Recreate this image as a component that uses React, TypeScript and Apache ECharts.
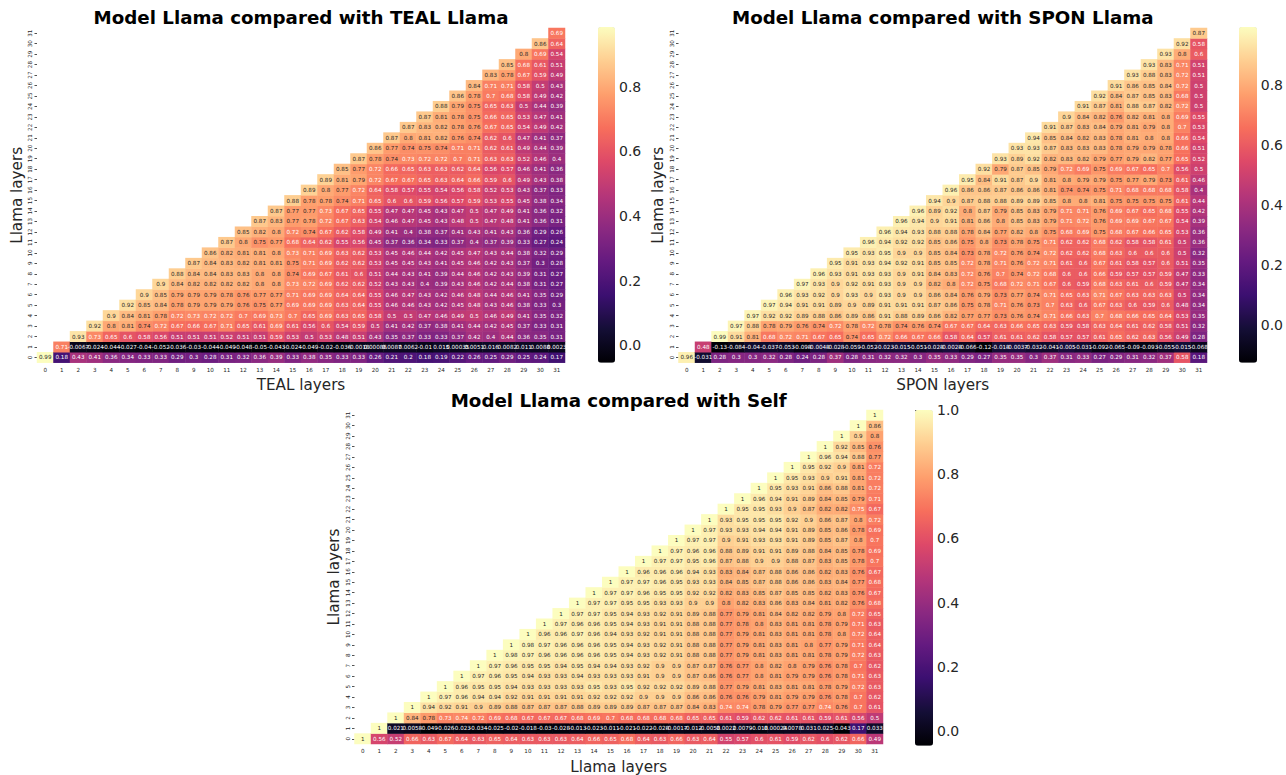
import React, { useEffect, useRef } from "react";
import * as echarts from "echarts";

const layerLabels = Array.from({ length: 32 }, (_, i) => String(i));

const tealRows: number[][] = [
  [0.99,0.18,0.43,0.41,0.36,0.34,0.33,0.33,0.29,0.3,0.28,0.31,0.32,0.36,0.39,0.33,0.38,0.35,0.33,0.33,0.26,0.21,0.2,0.18,0.19,0.22,0.26,0.25,0.29,0.25,0.24,0.17],
  [0.71,-0.0067,-0.024,-0.044,-0.027,-0.04,-0.052,-0.036,-0.03,-0.044,-0.049,-0.048,-0.05,-0.043,-0.024,-0.049,-0.02,-0.036,-0.0018,0.00086,0.0087,0.0062,-0.01,0.015,0.00035,0.0051,0.016,0.0082,0.011,0.0088,0.0023],
  [0.93,0.73,0.65,0.6,0.58,0.56,0.51,0.51,0.51,0.52,0.51,0.51,0.59,0.53,0.5,0.53,0.48,0.51,0.43,0.35,0.37,0.33,0.33,0.37,0.42,0.4,0.44,0.36,0.35,0.31],
  [0.92,0.8,0.81,0.74,0.72,0.67,0.66,0.67,0.71,0.65,0.61,0.69,0.61,0.56,0.6,0.54,0.59,0.5,0.41,0.42,0.37,0.38,0.41,0.44,0.42,0.45,0.37,0.33,0.31],
  [0.9,0.84,0.81,0.78,0.72,0.73,0.72,0.72,0.7,0.69,0.73,0.7,0.65,0.69,0.63,0.65,0.58,0.5,0.5,0.47,0.46,0.49,0.5,0.46,0.49,0.41,0.35,0.32],
  [0.92,0.85,0.84,0.78,0.79,0.79,0.79,0.76,0.75,0.77,0.69,0.69,0.69,0.63,0.64,0.55,0.46,0.46,0.43,0.42,0.45,0.48,0.43,0.46,0.38,0.33,0.3],
  [0.9,0.85,0.79,0.79,0.79,0.78,0.76,0.77,0.77,0.71,0.69,0.69,0.64,0.64,0.55,0.46,0.47,0.43,0.42,0.46,0.48,0.44,0.46,0.41,0.35,0.29],
  [0.9,0.84,0.82,0.82,0.82,0.82,0.8,0.8,0.73,0.72,0.69,0.62,0.62,0.52,0.43,0.43,0.4,0.39,0.43,0.46,0.42,0.44,0.38,0.31,0.27],
  [0.88,0.84,0.84,0.83,0.83,0.8,0.8,0.74,0.69,0.67,0.61,0.6,0.51,0.44,0.43,0.41,0.39,0.44,0.46,0.42,0.43,0.39,0.31,0.27],
  [0.87,0.84,0.83,0.82,0.81,0.81,0.75,0.71,0.69,0.62,0.62,0.53,0.45,0.45,0.43,0.41,0.45,0.46,0.42,0.43,0.37,0.3,0.28],
  [0.86,0.82,0.81,0.81,0.8,0.73,0.71,0.69,0.63,0.62,0.53,0.45,0.46,0.44,0.42,0.45,0.47,0.43,0.44,0.38,0.32,0.29],
  [0.87,0.8,0.75,0.77,0.68,0.64,0.62,0.55,0.56,0.45,0.37,0.36,0.34,0.33,0.37,0.4,0.37,0.39,0.33,0.27,0.24],
  [0.85,0.82,0.8,0.72,0.74,0.67,0.62,0.58,0.49,0.41,0.4,0.38,0.37,0.41,0.43,0.41,0.43,0.36,0.29,0.26],
  [0.87,0.83,0.77,0.78,0.72,0.67,0.63,0.54,0.46,0.47,0.45,0.43,0.48,0.5,0.47,0.48,0.41,0.36,0.31],
  [0.87,0.77,0.77,0.73,0.67,0.65,0.55,0.47,0.47,0.45,0.43,0.47,0.5,0.47,0.49,0.41,0.36,0.32],
  [0.88,0.78,0.78,0.74,0.71,0.65,0.6,0.6,0.59,0.56,0.57,0.59,0.53,0.55,0.45,0.38,0.34],
  [0.89,0.8,0.77,0.72,0.64,0.58,0.57,0.55,0.54,0.56,0.58,0.52,0.53,0.43,0.37,0.33],
  [0.89,0.81,0.79,0.72,0.67,0.67,0.65,0.63,0.64,0.66,0.59,0.6,0.49,0.43,0.38],
  [0.85,0.77,0.72,0.66,0.65,0.63,0.63,0.62,0.64,0.56,0.57,0.46,0.41,0.36],
  [0.87,0.78,0.74,0.73,0.72,0.72,0.7,0.71,0.63,0.63,0.52,0.46,0.4],
  [0.86,0.77,0.74,0.75,0.74,0.71,0.71,0.62,0.61,0.49,0.44,0.39],
  [0.87,0.8,0.81,0.82,0.76,0.74,0.62,0.6,0.47,0.41,0.37],
  [0.87,0.83,0.82,0.78,0.76,0.67,0.65,0.54,0.49,0.42],
  [0.87,0.81,0.78,0.75,0.66,0.65,0.53,0.47,0.41],
  [0.88,0.79,0.75,0.65,0.63,0.5,0.44,0.39],
  [0.86,0.78,0.7,0.68,0.58,0.49,0.42],
  [0.84,0.71,0.71,0.58,0.5,0.43],
  [0.83,0.78,0.67,0.59,0.49],
  [0.85,0.68,0.61,0.51],
  [0.8,0.69,0.54],
  [0.86,0.64],
  [0.69],
];

const sponRows: number[][] = [
  [0.96,-0.031,0.28,0.3,0.3,0.32,0.28,0.24,0.28,0.37,0.28,0.31,0.32,0.32,0.3,0.35,0.33,0.29,0.27,0.35,0.35,0.3,0.37,0.31,0.33,0.27,0.29,0.31,0.32,0.37,0.58,0.18],
  [0.48,-0.13,-0.084,-0.04,-0.037,-0.053,-0.098,-0.0048,-0.028,-0.059,-0.052,-0.023,-0.015,-0.051,-0.028,-0.0028,-0.066,-0.12,-0.018,-0.0037,-0.032,-0.041,-0.005,-0.031,-0.092,-0.065,-0.09,-0.093,-0.055,-0.015,-0.068],
  [0.99,0.91,0.81,0.68,0.72,0.71,0.67,0.65,0.74,0.65,0.72,0.66,0.67,0.66,0.58,0.64,0.57,0.61,0.61,0.62,0.58,0.57,0.57,0.61,0.65,0.62,0.63,0.56,0.49,0.28],
  [0.97,0.88,0.78,0.79,0.76,0.74,0.72,0.78,0.72,0.78,0.74,0.76,0.74,0.67,0.67,0.64,0.63,0.66,0.65,0.63,0.59,0.58,0.63,0.64,0.61,0.62,0.58,0.51,0.32],
  [0.97,0.92,0.92,0.89,0.88,0.86,0.89,0.86,0.91,0.88,0.89,0.86,0.82,0.77,0.77,0.73,0.76,0.74,0.71,0.66,0.63,0.7,0.68,0.66,0.65,0.64,0.53,0.35],
  [0.97,0.94,0.91,0.91,0.89,0.9,0.89,0.91,0.91,0.91,0.87,0.86,0.75,0.78,0.71,0.76,0.73,0.7,0.63,0.6,0.67,0.63,0.6,0.59,0.6,0.48,0.34],
  [0.96,0.93,0.92,0.9,0.93,0.9,0.93,0.9,0.9,0.86,0.84,0.76,0.79,0.73,0.77,0.74,0.71,0.65,0.63,0.71,0.67,0.63,0.63,0.63,0.5,0.34],
  [0.97,0.93,0.9,0.92,0.91,0.93,0.9,0.9,0.82,0.8,0.72,0.75,0.68,0.72,0.71,0.67,0.6,0.59,0.68,0.63,0.61,0.6,0.59,0.47,0.34],
  [0.96,0.93,0.91,0.93,0.93,0.9,0.91,0.84,0.83,0.72,0.76,0.7,0.74,0.72,0.68,0.6,0.6,0.66,0.59,0.57,0.57,0.59,0.47,0.33],
  [0.95,0.91,0.93,0.94,0.92,0.91,0.85,0.85,0.72,0.78,0.71,0.76,0.72,0.71,0.61,0.6,0.67,0.61,0.58,0.57,0.6,0.51,0.35],
  [0.95,0.93,0.95,0.9,0.9,0.85,0.84,0.73,0.78,0.72,0.76,0.74,0.72,0.62,0.62,0.68,0.63,0.6,0.6,0.6,0.5,0.32],
  [0.96,0.94,0.92,0.92,0.85,0.86,0.75,0.8,0.73,0.78,0.75,0.71,0.62,0.62,0.68,0.62,0.58,0.58,0.61,0.5,0.36],
  [0.96,0.94,0.93,0.88,0.88,0.78,0.84,0.77,0.82,0.8,0.75,0.68,0.69,0.75,0.68,0.67,0.66,0.65,0.53,0.36],
  [0.96,0.94,0.9,0.91,0.81,0.86,0.8,0.85,0.83,0.79,0.71,0.72,0.76,0.69,0.69,0.67,0.67,0.54,0.39],
  [0.96,0.89,0.92,0.8,0.87,0.79,0.85,0.83,0.79,0.71,0.71,0.76,0.69,0.67,0.65,0.68,0.55,0.42],
  [0.94,0.9,0.87,0.88,0.88,0.89,0.89,0.85,0.8,0.8,0.81,0.75,0.75,0.75,0.75,0.61,0.44],
  [0.96,0.86,0.86,0.87,0.86,0.86,0.81,0.74,0.74,0.75,0.71,0.68,0.68,0.68,0.58,0.4],
  [0.95,0.84,0.91,0.87,0.9,0.81,0.8,0.79,0.79,0.75,0.77,0.79,0.73,0.61,0.46],
  [0.92,0.79,0.87,0.85,0.79,0.72,0.69,0.75,0.69,0.67,0.65,0.7,0.56,0.5],
  [0.93,0.89,0.92,0.82,0.83,0.82,0.79,0.77,0.79,0.82,0.77,0.65,0.52],
  [0.93,0.93,0.87,0.83,0.83,0.83,0.78,0.79,0.79,0.78,0.66,0.51],
  [0.94,0.85,0.84,0.82,0.83,0.78,0.81,0.8,0.8,0.66,0.54],
  [0.91,0.87,0.83,0.84,0.79,0.81,0.79,0.8,0.7,0.53],
  [0.9,0.84,0.82,0.76,0.82,0.81,0.8,0.69,0.55],
  [0.91,0.87,0.81,0.88,0.87,0.82,0.72,0.5],
  [0.92,0.84,0.87,0.85,0.83,0.68,0.5],
  [0.91,0.86,0.85,0.84,0.72,0.5],
  [0.93,0.88,0.83,0.72,0.51],
  [0.93,0.83,0.71,0.51],
  [0.93,0.8,0.6],
  [0.92,0.58],
  [0.87],
];

const selfRows: number[][] = [
  [1,0.56,0.52,0.66,0.63,0.67,0.64,0.63,0.65,0.64,0.63,0.63,0.63,0.64,0.66,0.65,0.68,0.64,0.63,0.66,0.63,0.64,0.55,0.57,0.6,0.61,0.59,0.62,0.6,0.62,0.66,0.49],
  [1,0.021,0.0058,-0.049,-0.026,-0.023,-0.034,-0.025,-0.02,-0.018,-0.03,-0.028,-0.013,-0.023,-0.011,-0.021,-0.022,-0.028,-0.0017,-0.012,-0.0058,0.0022,0.0079,-0.018,0.00024,0.0078,0.031,0.025,-0.043,0.17,0.033],
  [1,0.84,0.78,0.73,0.74,0.72,0.69,0.68,0.67,0.67,0.67,0.68,0.69,0.7,0.68,0.68,0.68,0.68,0.65,0.65,0.61,0.59,0.62,0.62,0.61,0.61,0.59,0.61,0.56,0.5],
  [1,0.94,0.92,0.91,0.9,0.89,0.88,0.87,0.87,0.87,0.88,0.89,0.89,0.89,0.87,0.87,0.87,0.84,0.83,0.74,0.74,0.78,0.79,0.77,0.77,0.74,0.76,0.7,0.61],
  [1,0.97,0.96,0.94,0.94,0.92,0.91,0.91,0.91,0.91,0.92,0.92,0.92,0.9,0.9,0.9,0.86,0.86,0.76,0.76,0.79,0.81,0.79,0.79,0.76,0.78,0.7,0.62],
  [1,0.96,0.95,0.95,0.94,0.93,0.93,0.93,0.93,0.95,0.93,0.95,0.92,0.92,0.92,0.89,0.88,0.77,0.79,0.81,0.83,0.81,0.81,0.78,0.79,0.72,0.63],
  [1,0.97,0.96,0.95,0.94,0.93,0.93,0.94,0.93,0.93,0.93,0.91,0.9,0.9,0.87,0.86,0.76,0.77,0.8,0.81,0.79,0.79,0.76,0.78,0.71,0.63],
  [1,0.97,0.96,0.95,0.95,0.94,0.95,0.94,0.94,0.93,0.92,0.9,0.9,0.87,0.87,0.76,0.77,0.8,0.82,0.8,0.79,0.76,0.78,0.7,0.62],
  [1,0.98,0.97,0.96,0.96,0.96,0.96,0.95,0.94,0.93,0.92,0.91,0.88,0.88,0.77,0.79,0.81,0.83,0.81,0.81,0.78,0.79,0.72,0.63],
  [1,0.98,0.97,0.96,0.96,0.96,0.95,0.94,0.93,0.92,0.91,0.88,0.88,0.77,0.79,0.81,0.83,0.81,0.8,0.77,0.79,0.71,0.64],
  [1,0.96,0.96,0.97,0.96,0.94,0.93,0.92,0.91,0.91,0.88,0.88,0.77,0.79,0.81,0.83,0.81,0.81,0.78,0.8,0.72,0.64],
  [1,0.97,0.96,0.96,0.95,0.94,0.93,0.91,0.91,0.88,0.88,0.77,0.78,0.8,0.83,0.81,0.81,0.78,0.79,0.71,0.63],
  [1,0.97,0.97,0.95,0.94,0.93,0.92,0.91,0.89,0.88,0.77,0.79,0.81,0.84,0.82,0.82,0.79,0.8,0.72,0.65],
  [1,0.97,0.97,0.95,0.95,0.93,0.93,0.9,0.9,0.8,0.82,0.83,0.86,0.83,0.84,0.81,0.82,0.76,0.68],
  [1,0.97,0.97,0.96,0.95,0.95,0.92,0.92,0.82,0.83,0.85,0.87,0.85,0.85,0.82,0.83,0.76,0.67],
  [1,0.97,0.97,0.96,0.95,0.93,0.93,0.84,0.85,0.87,0.88,0.86,0.86,0.83,0.84,0.77,0.68],
  [1,0.96,0.96,0.96,0.94,0.93,0.83,0.84,0.87,0.88,0.86,0.86,0.82,0.83,0.76,0.67],
  [1,0.97,0.97,0.95,0.96,0.87,0.88,0.9,0.9,0.88,0.87,0.83,0.85,0.78,0.7],
  [1,0.97,0.96,0.96,0.88,0.89,0.91,0.91,0.89,0.88,0.84,0.85,0.78,0.69],
  [1,0.97,0.97,0.9,0.91,0.93,0.93,0.91,0.89,0.85,0.87,0.8,0.7],
  [1,0.97,0.93,0.93,0.94,0.94,0.91,0.89,0.85,0.86,0.78,0.69],
  [1,0.93,0.95,0.95,0.95,0.92,0.9,0.86,0.87,0.8,0.72],
  [1,0.95,0.95,0.93,0.9,0.87,0.82,0.82,0.75,0.67],
  [1,0.96,0.94,0.91,0.89,0.84,0.85,0.79,0.71],
  [1,0.95,0.93,0.91,0.86,0.88,0.81,0.72],
  [1,0.95,0.93,0.9,0.91,0.81,0.72],
  [1,0.95,0.92,0.9,0.81,0.72],
  [1,0.96,0.94,0.88,0.77],
  [1,0.92,0.85,0.76],
  [1,0.9,0.8],
  [1,0.86],
  [1],
];

const colorbarTicksTeal = [0, 0.2, 0.4, 0.6, 0.8];
const colorbarTicksSpon = [0, 0.2, 0.4, 0.6, 0.8];
const colorbarTicksSelf = [0, 0.2, 0.4, 0.6, 0.8, 1];

const magma = ["#000004","#140e36","#3b0f70","#641a80","#8c2981","#b63679","#de4968","#f76f5c","#fe9f6d","#fece91","#fcfdbf"];
const FONT = "DejaVu Sans";
const INK = "#262626";

function rgbAt(t: number): number[] {
  const c = Math.max(0, Math.min(1, t)) * (magma.length - 1);
  const i = Math.min(magma.length - 2, Math.floor(c));
  const f = c - i;
  const hex = (s: string) => [1, 3, 5].map((k) => parseInt(s.slice(k, k + 2), 16));
  const a = hex(magma[i]);
  const b = hex(magma[i + 1]);
  return a.map((v, k) => v + (b[k] - v) * f);
}

function labelColor(t: number): string {
  const lin = rgbAt(t).map((v) => {
    const s = v / 255;
    return s <= 0.03928 ? s / 12.92 : Math.pow((s + 0.055) / 1.055, 2.4);
  });
  const lum = 0.2126 * lin[0] + 0.7152 * lin[1] + 0.0722 * lin[2];
  return lum > 0.408 ? INK : "#ffffff";
}

const panels = [
  { title: "Model Llama compared with TEAL Llama", xName: "TEAL layers", rows: tealRows, vmin: -0.054, vmax: 0.985, ticks: colorbarTicksTeal,
    left: 37, top: 28, width: 528, height: 334.7, barLeft: 598, barWidth: 17, barTop: 27, barHeight: 335.7, titleTop: 8, },
  { title: "Model Llama compared with SPON Llama", xName: "SPON layers", rows: sponRows, vmin: -0.127, vmax: 0.992, ticks: colorbarTicksSpon,
    left: 678.5, top: 28, width: 528.5, height: 334.7, barLeft: 1239, barWidth: 18, barTop: 27, barHeight: 335.7, titleTop: 8, },
  { title: "Model Llama compared with Self", xName: "Llama layers", rows: selfRows, vmin: -0.045, vmax: 1, ticks: colorbarTicksSelf,
    left: 354.5, top: 410, width: 528.5, height: 335.7, barLeft: 915, barWidth: 18, barTop: 410, barHeight: 335.7, titleTop: 391, },
];

function buildOption() {
  const grid: any[] = [];
  const xAxis: any[] = [];
  const yAxis: any[] = [];
  const series: any[] = [];
  const visualMap: any[] = [];
  const title: any[] = [];

  panels.forEach((p, i) => {
    grid.push({ left: p.left, top: p.top, width: p.width, height: p.height });
    grid.push({ left: p.barLeft, top: p.barTop, width: p.barWidth, height: p.barHeight });

    const smallLabel = { fontFamily: FONT, fontSize: 5.6, color: INK, interval: 0, hideOverlap: false };
    xAxis.push({
      type: "category", gridIndex: i * 2, data: layerLabels, position: "bottom",
      name: p.xName, nameLocation: "middle", nameGap: 15,
      nameTextStyle: { fontFamily: FONT, fontSize: 15.2, color: INK },
      axisLine: { show: false }, splitLine: { show: false },
      axisTick: { show: false },
      axisLabel: { ...smallLabel, margin: 4 },
    });
    yAxis.push({
      type: "category", gridIndex: i * 2, data: layerLabels, position: "left",
      name: "Llama layers", nameLocation: "middle", nameGap: 13,
      nameTextStyle: { fontFamily: FONT, fontSize: 15.2, color: INK },
      axisLine: { show: false }, splitLine: { show: false },
      axisTick: { show: true, alignWithLabel: true, length: 2.5, lineStyle: { color: INK, width: 0.8 }, interval: 0 },
      axisLabel: { ...smallLabel, rotate: 90, margin: 4 },
    });
    xAxis.push({ type: "value", gridIndex: i * 2 + 1, show: false, min: 0, max: 1 });
    yAxis.push({
      type: "value", gridIndex: i * 2 + 1, position: "right", min: p.vmin, max: p.vmax,
      splitLine: { show: false }, axisLine: { show: false },
      axisTick: { show: true, length: 3, customValues: p.ticks, lineStyle: { color: INK, width: 0.8 } },
      axisLabel: { customValues: p.ticks, fontFamily: FONT, fontSize: 14, color: INK, margin: 4, formatter: (v: number) => v.toFixed(1) },
    });

    const data: any[] = [];
    p.rows.forEach((row, y) => {
      row.forEach((v, k) => {
        const t = (v - p.vmin) / (p.vmax - p.vmin);
        data.push({ value: [y + k, y, v], label: { color: labelColor(t) } });
      });
    });
    series.push({
      type: "heatmap", xAxisIndex: i * 2, yAxisIndex: i * 2, data,
      label: { show: true, fontFamily: FONT, fontSize: 5.6, formatter: (q: any) => String(q.value[2]) },
      itemStyle: { borderWidth: 0 },
      emphasis: { disabled: true },
    });
    visualMap.push({
      type: "continuous", seriesIndex: i, dimension: 2, min: p.vmin, max: p.vmax,
      inRange: { color: magma }, calculable: false, realtime: false, padding: 0,
      left: p.barLeft, top: p.barTop, itemWidth: p.barWidth, itemHeight: p.barHeight,
      orient: "vertical", text: null, showLabel: false,
    });
    title.push({
      text: p.title, left: p.left + p.width / 2, top: p.titleTop, textAlign: "center", padding: 0,
      textStyle: { fontFamily: FONT, fontSize: 18.25, fontWeight: "bold", color: "#000" },
    });
  });

  return { animation: false, backgroundColor: "#fff", title, grid, xAxis, yAxis, series, visualMap, tooltip: { show: false } };
}

export default function App() {
  const ref = useRef<HTMLDivElement>(null);
  useEffect(() => {
    document.body.style.margin = "0";
    const chart = echarts.init(ref.current!, undefined, { renderer: "svg" });
    chart.setOption(buildOption() as any);
    return () => chart.dispose();
  }, []);
  return <div ref={ref} style={{ width: 1286, height: 775 }} />;
}
